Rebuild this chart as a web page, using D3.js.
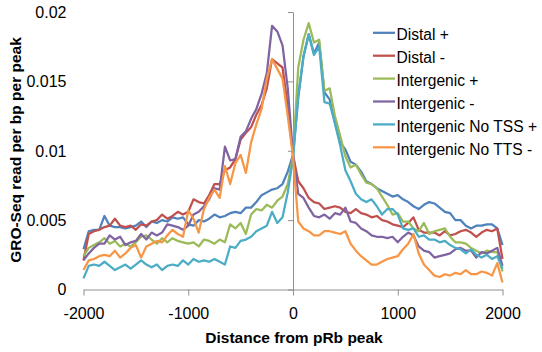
<!DOCTYPE html>
<html>
<head>
<meta charset="utf-8">
<script src="https://cdn.jsdelivr.net/npm/d3@7"></script>
<style>
  body { margin: 0; background: #fff; }
  svg { display: block; }
  text { font-family: "Liberation Sans", Arial, sans-serif; fill: #000; }
</style>
</head>
<body>
<div id="chart"></div>
<script>
// bin centres, 50 bp apart, from -2000 to 2000
const positions = d3.range(-2000, 2001, 50);

// GRO-Seq reads per bp per peak (one value per bin)
const distalPlus = [
  0.0029, 0.0042, 0.0043, 0.0043, 0.0053, 0.0046, 0.0045, 0.0045, 0.0044, 0.0045,
  0.0046, 0.0049, 0.0045, 0.0049, 0.0048, 0.0050, 0.0049, 0.0052, 0.0051, 0.0052,
  0.0047, 0.0046, 0.0050, 0.0049, 0.0051, 0.0054, 0.0052, 0.0053, 0.0055, 0.0056,
  0.0055, 0.0059, 0.0059, 0.0063, 0.0068, 0.0070, 0.0072, 0.0073, 0.0076, 0.0085,
  0.0097,
  0.0138, 0.0168, 0.0184, 0.0170, 0.0178, 0.0142, 0.0137, 0.0120, 0.0106, 0.0101,
  0.0092, 0.0090, 0.0085, 0.0078, 0.0076, 0.0073, 0.0071, 0.0069, 0.0067, 0.0068,
  0.0065, 0.0063, 0.0060, 0.0058, 0.0061, 0.0063, 0.0062, 0.0059, 0.0056, 0.0055,
  0.0050, 0.0050, 0.0046, 0.0044, 0.0046, 0.0046, 0.0047, 0.0047, 0.0044, 0.0032
];
const distalMinus = [
  0.0021, 0.0040, 0.0042, 0.0043, 0.0045, 0.0046, 0.0051, 0.0046, 0.0045, 0.0046,
  0.0043, 0.0047, 0.0046, 0.0049, 0.0050, 0.0054, 0.0051, 0.0053, 0.0056, 0.0054,
  0.0056, 0.0065, 0.0063, 0.0062, 0.0068, 0.0076, 0.0076, 0.0086, 0.0088, 0.0094,
  0.0108, 0.0113, 0.0117, 0.0126, 0.0133, 0.0145, 0.0166, 0.0163, 0.0160, 0.0132,
  0.0097,
  0.0078, 0.0073, 0.0066, 0.0063, 0.0062, 0.0058, 0.0059, 0.0060, 0.0059, 0.0056,
  0.0055, 0.0058, 0.0055, 0.0054, 0.0052, 0.0053, 0.0050, 0.0049, 0.0047, 0.0046,
  0.0045, 0.0048, 0.0052, 0.0043, 0.0041, 0.0041, 0.0041, 0.0039, 0.0042, 0.0039,
  0.0040, 0.0042, 0.0043, 0.0041, 0.0038, 0.0041, 0.0043, 0.0042, 0.0044, 0.0022
];
const intergenicPlus = [
  0.0024, 0.0030, 0.0032, 0.0034, 0.0037, 0.0033, 0.0035, 0.0031, 0.0033, 0.0031,
  0.0034, 0.0038, 0.0039, 0.0036, 0.0033, 0.0037, 0.0034, 0.0037, 0.0035, 0.0034,
  0.0033, 0.0034, 0.0031, 0.0036, 0.0035, 0.0033, 0.0036, 0.0034, 0.0047, 0.0044,
  0.0048, 0.0040, 0.0054, 0.0058, 0.0057, 0.0061, 0.0059, 0.0064, 0.0067, 0.0076,
  0.0096,
  0.0160, 0.0180, 0.0192, 0.0178, 0.0180, 0.0143, 0.0145, 0.0125, 0.0111, 0.0096,
  0.0088, 0.0090, 0.0083, 0.0077, 0.0076, 0.0073, 0.0067, 0.0061, 0.0054, 0.0055,
  0.0049, 0.0049, 0.0044, 0.0042, 0.0048, 0.0040, 0.0042, 0.0043, 0.0044, 0.0038,
  0.0034, 0.0034, 0.0033, 0.0030, 0.0028, 0.0026, 0.0028, 0.0027, 0.0027, 0.0013
];
const intergenicMinus = [
  0.0021, 0.0026, 0.0030, 0.0033, 0.0033, 0.0039, 0.0036, 0.0038, 0.0032, 0.0034,
  0.0035, 0.0040, 0.0036, 0.0041, 0.0039, 0.0041, 0.0047, 0.0046, 0.0045, 0.0043,
  0.0046, 0.0054, 0.0056, 0.0060, 0.0065, 0.0073, 0.0072, 0.0103, 0.0093, 0.0094,
  0.0110, 0.0114, 0.0123, 0.0130, 0.0141, 0.0156, 0.0190, 0.0186, 0.0176, 0.0145,
  0.0098,
  0.0069, 0.0066, 0.0059, 0.0053, 0.0052, 0.0054, 0.0051, 0.0055, 0.0054, 0.0059,
  0.0049, 0.0048, 0.0044, 0.0042, 0.0039, 0.0038, 0.0038, 0.0037, 0.0038, 0.0034,
  0.0038, 0.0041, 0.0039, 0.0031, 0.0028, 0.0027, 0.0023, 0.0024, 0.0025, 0.0026,
  0.0029, 0.0030, 0.0028, 0.0028, 0.0023, 0.0027, 0.0026, 0.0028, 0.0030, 0.0017
];
const noTssPlus = [
  0.0008, 0.0017, 0.0018, 0.0017, 0.0020, 0.0017, 0.0014, 0.0016, 0.0018, 0.0015,
  0.0018, 0.0021, 0.0018, 0.0016, 0.0018, 0.0014, 0.0017, 0.0018, 0.0017, 0.0021,
  0.0018, 0.0022, 0.0020, 0.0021, 0.0020, 0.0022, 0.0020, 0.0018, 0.0031, 0.0030,
  0.0035, 0.0036, 0.0038, 0.0042, 0.0044, 0.0046, 0.0056, 0.0048, 0.0052, 0.0070,
  0.0094,
  0.0140, 0.0168, 0.0184, 0.0169, 0.0175, 0.0135, 0.0134, 0.0120, 0.0104, 0.0086,
  0.0078, 0.0069, 0.0065, 0.0063, 0.0065, 0.0060, 0.0054, 0.0058, 0.0058, 0.0054,
  0.0044, 0.0043, 0.0044, 0.0038, 0.0039, 0.0036, 0.0036, 0.0034, 0.0035, 0.0032,
  0.0030, 0.0029, 0.0026, 0.0029, 0.0025, 0.0023, 0.0025, 0.0022, 0.0024, 0.0015
];
const noTtsMinus = [
  0.0014, 0.0021, 0.0022, 0.0024, 0.0025, 0.0024, 0.0028, 0.0023, 0.0026, 0.0030,
  0.0032, 0.0023, 0.0031, 0.0033, 0.0035, 0.0034, 0.0039, 0.0043, 0.0040, 0.0038,
  0.0057, 0.0051, 0.0041, 0.0058, 0.0066, 0.0072, 0.0066, 0.0089, 0.0076, 0.0091,
  0.0097, 0.0084, 0.0106, 0.0119, 0.0130, 0.0152, 0.0166, 0.0159, 0.0152, 0.0125,
  0.0096,
  0.0049, 0.0044, 0.0042, 0.0039, 0.0039, 0.0042, 0.0042, 0.0041, 0.0040, 0.0042,
  0.0033, 0.0028, 0.0024, 0.0021, 0.0018, 0.0018, 0.0020, 0.0022, 0.0023, 0.0024,
  0.0029, 0.0033, 0.0040, 0.0026, 0.0018, 0.0014, 0.0010, 0.0009, 0.0011, 0.0010,
  0.0012, 0.0011, 0.0014, 0.0011, 0.0011, 0.0013, 0.0012, 0.0010, 0.0019, 0.0005
];

const seriesNames = ["Distal +", "Distal -", "Intergenic +", "Intergenic -",
  "Intergenic No TSS +", "Intergenic No TTS -"];
const seriesValues = [distalPlus, distalMinus, intergenicPlus, intergenicMinus, noTssPlus, noTtsMinus];
const colours = ["#4F81BD", "#C0504D", "#9BBB59", "#8064A2", "#4BACC6", "#F79646"];

const xTicks = [-2000, -1000, 0, 1000, 2000];
const yTicks = [0, 0.005, 0.01, 0.015, 0.02];

const width = 542;
const height = 352;
const plot = { left: 83.5, right: 502.5, top: 12, bottom: 289.5 };
const axisColour = "#8f8f8f";

const svg = d3.select("#chart")
  .append("svg")
  .attr("width", width)
  .attr("height", height);

const x = d3.scaleLinear().domain([-2000, 2000]).range([plot.left, plot.right]);
const y = d3.scaleLinear().domain([0, 0.02]).range([plot.bottom, plot.top]);

// horizontal axis sits on y = 0
const xAxis = svg.append("g")
  .attr("transform", `translate(0,${y(0)})`)
  .call(d3.axisBottom(x).tickValues(xTicks).tickSize(6).tickSizeOuter(0).tickFormat((d) => String(d)));
xAxis.selectAll("path, line").attr("stroke", axisColour).attr("stroke-width", 1);
xAxis.selectAll("text")
  .attr("y", 0)
  .attr("dy", 0)
  .attr("transform", `translate(0,${319 - y(0)})`)
  .style("font-size", "16px");

// vertical axis crosses at x = 0, labels stay on the far left (Excel "low" labels)
const yAxis = svg.append("g")
  .attr("transform", `translate(${x(0)},0)`)
  .call(d3.axisLeft(y).tickValues(yTicks).tickSize(5).tickSizeOuter(0).tickFormat(""));
yAxis.selectAll("path, line").attr("stroke", axisColour).attr("stroke-width", 1);

svg.append("g")
  .selectAll("text")
  .data(yTicks)
  .enter()
  .append("text")
  .attr("x", 66.5)
  .attr("y", (d) => y(d))
  .attr("dy", "0.36em")
  .attr("text-anchor", "end")
  .style("font-size", "16px")
  .text((d) => String(d));

// lines, drawn in legend order so the last series sits on top
const line = d3.line()
  .x((d, i) => x(positions[i]))
  .y((d) => y(d));

svg.append("g")
  .selectAll("path")
  .data(seriesValues)
  .enter()
  .append("path")
  .attr("d", line)
  .attr("fill", "none")
  .attr("stroke", (d, i) => colours[i])
  .attr("stroke-width", 2.25)
  .attr("stroke-linejoin", "round");

// legend
const legend = svg.append("g")
  .selectAll("g")
  .data(seriesNames)
  .enter()
  .append("g")
  .attr("transform", (d, i) => `translate(373,${32.8 + i * 22.9})`);
legend.append("line")
  .attr("x1", 0)
  .attr("x2", 22)
  .attr("stroke", (d, i) => colours[i])
  .attr("stroke-width", 2.25);
legend.append("text")
  .attr("x", 23.5)
  .attr("y", 7.6)
  .style("font-size", "15.6px")
  .text((d) => d);

// axis titles
svg.append("text")
  .attr("x", 294)
  .attr("y", 343)
  .attr("text-anchor", "middle")
  .style("font-size", "15.5px")
  .style("font-weight", "bold")
  .text("Distance from pRb peak");

svg.append("text")
  .attr("transform", "translate(21,150) rotate(-90)")
  .attr("text-anchor", "middle")
  .style("font-size", "15.5px")
  .style("font-weight", "bold")
  .text("GRO-Seq read per bp per peak");
</script>
</body>
</html>
